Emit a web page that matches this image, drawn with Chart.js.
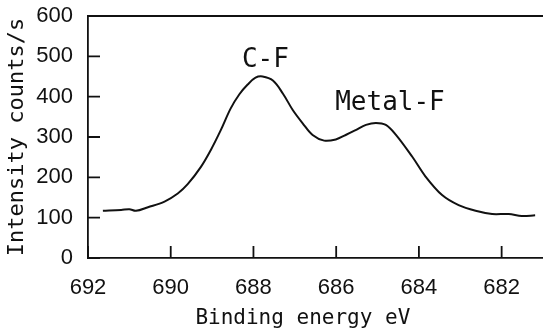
<!DOCTYPE html>
<html>
<head>
<meta charset="utf-8">
<script src="https://cdn.jsdelivr.net/npm/chart.js@4"></script>
<style>
  html, body { margin: 0; padding: 0; background: #fff; }
  #wrap { width: 543px; height: 333px; }
</style>
</head>
<body>
<div id="wrap"><canvas id="xps"></canvas></div>
<script>
// F1s spectrum
const energies = [691.64, 691.20, 691.00, 690.84, 690.55, 690.15, 689.83, 689.59, 689.27, 689.03,
    688.79, 688.55, 688.34, 688.14, 687.95, 687.78, 687.53, 687.29, 687.05, 686.81,
    686.57, 686.29, 686.01, 685.77, 685.53, 685.28, 685.04, 684.80, 684.56, 684.16,
    683.84, 683.44, 683.04, 682.63, 682.23, 681.83, 681.51, 681.19];
const intensities = [117, 119, 121, 117, 126, 140, 160, 183, 226, 268,
    317, 371, 406, 430, 447, 450, 440, 408, 367, 334,
    305, 291, 294, 305, 317, 330, 335, 330, 306, 251,
    202, 156, 131, 117, 109, 109, 104, 106];
const xTicks = [692, 690, 688, 686, 684, 682];
const yTicks = [0, 100, 200, 300, 400, 500, 600];
const peakNames = ['C-F', 'Metal-F'];
const peakAt = [[687.71, 491], [684.70, 384]];

const ink = '#111';
const tickFont = { family: 'Liberation Sans, Arial, sans-serif', size: 22 };
const monoFont = { family: 'DejaVu Sans Mono, monospace', size: 21 };

// inward tick marks, top frame line and peak labels
const frameAndLabels = {
    id: 'frameAndLabels',
    afterDraw(chart) {
        const { ctx, chartArea: a, scales: { x, y } } = chart;
        ctx.save();
        ctx.strokeStyle = ink;
        ctx.lineWidth = 1.8;
        ctx.beginPath();
        ctx.moveTo(a.left, a.top);
        ctx.lineTo(a.right, a.top);
        xTicks.forEach(v => {
            const px = x.getPixelForValue(v);
            ctx.moveTo(px, a.bottom);
            ctx.lineTo(px, a.bottom - 12);
        });
        yTicks.forEach(v => {
            const py = y.getPixelForValue(v);
            ctx.moveTo(a.left, py);
            ctx.lineTo(a.left + 12, py);
        });
        ctx.stroke();

        ctx.fillStyle = ink;
        ctx.font = '26px "DejaVu Sans Mono", monospace';
        ctx.textAlign = 'center';
        ctx.textBaseline = 'middle';
        peakNames.forEach((name, i) => {
            ctx.fillText(name, x.getPixelForValue(peakAt[i][0]), y.getPixelForValue(peakAt[i][1]));
        });
        ctx.restore();
    }
};

new Chart(document.getElementById('xps'), {
    type: 'line',
    data: {
        datasets: [{
            data: energies.map((e, i) => ({ x: e, y: intensities[i] })),
            borderColor: ink,
            borderWidth: 2,
            pointRadius: 0,
            tension: 0.35,
            fill: false
        }]
    },
    options: {
        responsive: true,
        maintainAspectRatio: false,
        animation: false,
        layout: { padding: { top: 16, right: 0, bottom: 0, left: 0 } },
        plugins: {
            legend: { display: false },
            tooltip: { enabled: false }
        },
        scales: {
            x: {
                type: 'linear',
                reverse: true,
                min: 681,
                max: 692,
                afterBuildTicks: s => { s.ticks = xTicks.map(v => ({ value: v })); },
                afterFit: s => { s.height = 75; s.paddingLeft = 0; s.paddingRight = 0; },
                grid: { display: false, drawTicks: false },
                border: { display: true, color: ink, width: 1.8 },
                ticks: { color: ink, font: tickFont, padding: 17, maxRotation: 0 },
                title: {
                    display: true,
                    text: 'Binding energy eV  ',
                    color: ink,
                    font: monoFont,
                    padding: { top: 2, bottom: 2 }
                }
            },
            y: {
                min: 0,
                max: 600,
                afterBuildTicks: s => { s.ticks = yTicks.map(v => ({ value: v })); },
                afterFit: s => { s.width = 88; s.paddingTop = 0; s.paddingBottom = 0; },
                grid: { display: false, drawTicks: false },
                border: { display: true, color: ink, width: 1.8 },
                ticks: { color: ink, font: tickFont, padding: 15 },
                title: {
                    display: true,
                    text: 'Intensity counts/s',
                    color: ink,
                    font: { family: 'DejaVu Sans Mono, monospace', size: 22 },
                    padding: { top: 4, bottom: 0 }
                }
            }
        }
    },
    plugins: [frameAndLabels]
});
</script>
</body>
</html>
